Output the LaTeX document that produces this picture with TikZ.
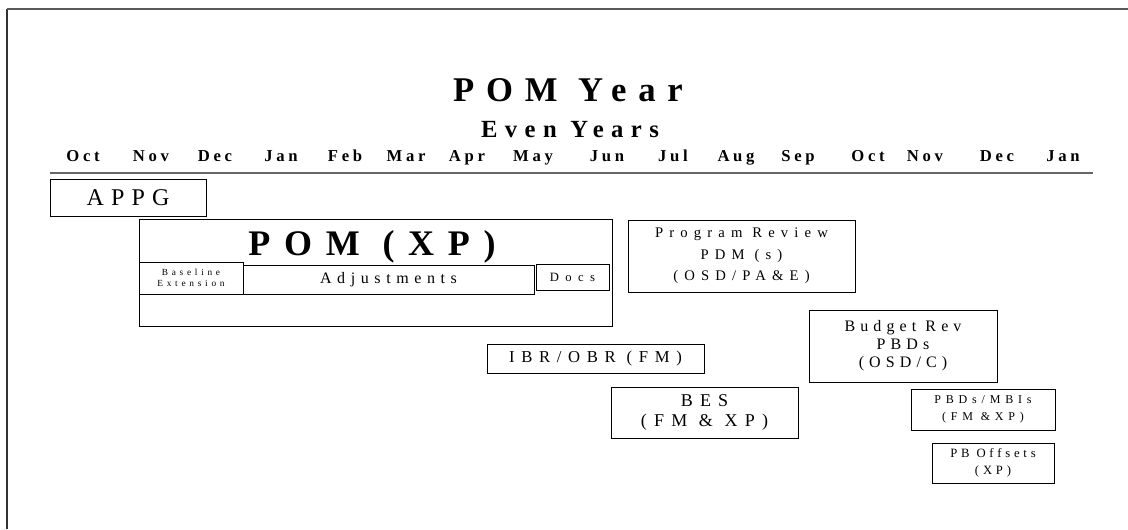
\documentclass[tikz,border=0pt]{standalone}
\usepackage{fontspec}
\setmainfont{Liberation Serif}
\newcommand{\spacedfont}[3]{\fontsize{#1}{#2}\selectfont\addfontfeature{LetterSpace=#3}}

\begin{document}
\begin{tikzpicture}[
    x=0.75pt, y=-0.75pt,
    box/.style={draw, line width=0.75pt, inner sep=0pt, align=center},
    heading/.style={font=\bfseries\spacedfont{26}{30}{34}, anchor=base},
    subheading/.style={font=\bfseries\spacedfont{18.5}{21}{30}, anchor=base},
    month/.style={font=\bfseries\spacedfont{12.5}{14}{22}, anchor=base},
    rule/.style={draw=black!60, line width=1.5pt}
]
\useasboundingbox (0,0) rectangle (1128,529);
% frame
\draw[black!80, line width=1.5pt] (7,529) -- (7,9);
\draw[black!65, line width=0.9pt] (7,9) -- (1128,9);

% headings and months
\node[heading] (title) at (568,101) {POM Year};
\node[subheading] (even) at (570,137) {Even Years};
\foreach \mx/\mn [count=\i] in {83/Oct,151/Nov,215/Dec,281/Jan,345/Feb,406/Mar,467/Apr,533/May,607/Jun,673/Jul,736/Aug,798/Sep,868/Oct,925/Nov,997/Dec,1063/Jan}
    \node[month] (mon\i) at (\mx,161) {\mn};
\draw[rule] (50,173) -- (1093,173);

% boxes
\node[box, minimum width=117pt, minimum height=27.75pt, font=\spacedfont{18}{20}{30}] (appg) at (128,197.5) {APPG};
\node[box, minimum width=354.75pt, minimum height=80.25pt] (pom) at (375.5,272.5) {};
\node[font=\bfseries\spacedfont{27}{30}{38}, anchor=base] (pomtitle) at (372,255) {POM (XP)};
\node[box, minimum width=78pt, minimum height=24pt, font=\spacedfont{7}{8.5}{40}] (base) at (191,278) {Baseline\\Extension};
\node[box, minimum width=218.25pt, minimum height=21.75pt, font=\spacedfont{12}{14}{35}] (adj) at (388.5,279.5) {Adjustments};
\node[box, minimum width=54.75pt, minimum height=19.5pt, font=\spacedfont{9.5}{11}{50}] (docs) at (572.5,277) {Docs};
\node[box, minimum width=170.25pt, minimum height=54pt, font=\spacedfont{11}{16}{42}] (prog) at (741.5,256) {Program Review\\PDM (s)\\(OSD/PA\&E)};
\node[box, minimum width=141pt, minimum height=54pt, font=\spacedfont{12}{13.5}{32}] (budget) at (903,346) {Budget Rev\\PBDs\\(OSD/C)};
\node[box, minimum width=162.75pt, minimum height=21.75pt, font=\spacedfont{12.5}{14}{40}] (ibr) at (595.5,358.5) {IBR/OBR (FM)};
\node[box, minimum width=140.25pt, minimum height=38.25pt, font=\spacedfont{13.5}{15}{40}] (bes) at (704.5,412.5) {BES\\(FM \& XP)};
\node[box, minimum width=108pt, minimum height=30.75pt, font=\spacedfont{9}{13}{40}] (mbi) at (983,409.5) {PBDs/MBIs\\(FM \&XP)};
\node[box, minimum width=91.5pt, minimum height=30pt, font=\spacedfont{9.5}{12.5}{30}] (offsets) at (993,463) {PB Offsets\\(XP)};
\end{tikzpicture}
\end{document}
